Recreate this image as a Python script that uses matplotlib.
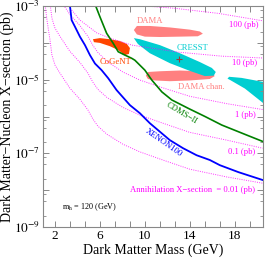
import numpy as np
import matplotlib
matplotlib.use("Agg")
import matplotlib.pyplot as plt
from matplotlib.ticker import FixedLocator, FuncFormatter, LogLocator, NullFormatter

plt.rcParams['font.family'] = 'serif'
plt.rcParams['font.serif'] = ['Liberation Serif', 'DejaVu Serif']
plt.rcParams['mathtext.fontset'] = 'stix'

# masses in GeV, cross sections as log10(pb)
xenon_m = [3.30, 3.48, 3.78, 4.22, 4.67, 5.11, 5.56, 6.15, 6.74, 7.48, 8.67, 9.56,
           10.44, 11.33, 12.22, 13.40, 14.6, 15.78, 16.67, 18.33, 20.55]
xenon_s = [-2.9, -3.38, -3.56, -3.83, -4.06, -4.33, -4.56, -4.74, -4.96, -5.28, -5.69, -5.91,
           -6.18, -6.41, -6.64, -6.86, -7.05, -7.18, -7.32, -7.51, -7.73]

cdms_m = [5.5, 6.0, 6.6, 7.18, 7.63, 8.22, 8.84, 9.11, 10.0, 10.62, 11.51, 12.4,
          13.88, 15.36, 16.84, 19.04, 20.52]
cdms_s = [-2.9, -3.29, -3.74, -4.01, -4.24, -4.33, -4.42, -4.47, -4.74, -5.01, -5.33, -5.55,
          -5.78, -6.0, -6.23, -6.50, -6.68]

# annihilation cross section contours
ann_labels = ["100 (pb)", "10 (pb)", "1 (pb)", "0.1 (pb)", "Annihilation X\u2212section  = 0.01 (pb)"]
ann100_m = [7.9, 8.84, 12.67, 16.58, 20.49]
ann100_s = [-2.9, -2.97, -3.06, -3.20, -3.40]
ann10_m = [3.2, 3.33, 4.22, 5.73, 6.89, 8.84, 12.93, 16.84, 20.49]
ann10_s = [-2.95, -3.05, -3.38, -3.73, -3.87, -4.06, -4.25, -4.36, -4.41]
ann1_m = [2.44, 3.33, 4.22, 4.93, 5.38, 5.82, 6.62, 8.04, 9.56, 11.6, 14.0, 17.29, 20.49]
ann1_s = [-2.82, -3.23, -3.53, -3.82, -4.07, -4.26, -4.50, -4.79, -5.01, -5.22, -5.45, -5.65, -5.81]
ann01_m = [1.56, 1.73, 2.0, 2.44, 3.33, 4.22, 4.93, 5.38, 5.82, 6.62, 8.04, 9.56, 11.6, 14.0, 17.29, 20.49]
ann01_s = [-2.92, -3.33, -3.60, -3.82, -4.23, -4.53, -4.82, -5.07, -5.26, -5.48, -5.75, -5.96,
           -6.18, -6.43, -6.64, -6.86]
ann001_m = [1.11, 1.29, 1.56, 1.73, 2.0, 2.44, 3.33, 4.22, 4.93, 5.38, 5.82, 6.62, 8.04, 9.56,
            11.6, 14.0, 17.29, 20.49]
ann001_s = [-2.92, -3.38, -3.92, -4.33, -4.60, -4.82, -5.23, -5.53, -5.82, -6.07, -6.26, -6.48,
            -6.75, -6.96, -7.18, -7.43, -7.64, -7.81]

# signal regions
cogent_m = [5.38, 6.0, 6.89, 7.78, 8.4, 8.67, 8.58, 8.22, 7.6, 6.89, 6.0, 5.47]
cogent_s = [-3.90, -3.87, -3.90, -3.95, -4.03, -4.14, -4.30, -4.33, -4.19, -4.09, -4.0, -3.98]
dama_m = [9.29, 10.44, 12.22, 14.0, 14.89, 15.16, 14.71, 13.11, 11.33, 10.0, 9.29, 9.02]
dama_s = [-3.54, -3.54, -3.58, -3.64, -3.69, -3.75, -3.82, -3.83, -3.84, -3.83, -3.77, -3.65]
damach_m = [10.09, 10.27, 11.33, 13.11, 14.89, 15.96, 16.22, 15.78, 14.0, 12.22, 10.89, 10.27]
damach_s = [-4.89, -4.79, -4.77, -4.75, -4.77, -4.82, -4.90, -4.98, -5.02, -5.04, -5.02, -4.98]
cresst1_m = [9.02, 9.56, 11.33, 13.11, 14.89, 15.96, 16.31, 16.13, 15.33, 14.0, 12.22, 10.44, 9.38]
cresst1_s = [-3.87, -3.90, -4.06, -4.28, -4.52, -4.68, -4.79, -4.89, -4.90, -4.76, -4.55, -4.28, -4.03]
cresst2_m = [17.35, 17.5, 18.6, 20.55, 21.5, 21.5, 20.55, 18.9, 17.6]
cresst2_s = [-4.97, -4.92, -4.95, -5.06, -5.12, -5.82, -5.64, -5.24, -5.01]
cresst_best = (13.0, -4.45)

xticks_shown = [2, 6, 10, 14, 18]

dama_col = '#ff8080'
cresst_col = '#00ced1'
cogent_col = '#ff4500'
mag = '#ff00ff'

fig = plt.figure(figsize=(2.65, 2.64), dpi=100)
ax = fig.add_axes([0.162, 0.14, 0.830, 0.837])
ax.set_yscale('log')

def p(s):
    return 10 ** np.array(s)

ax.fill(dama_m, p(dama_s), color=dama_col, lw=0)
ax.fill(damach_m, p(damach_s), color=dama_col, lw=0)
ax.fill(cresst1_m, p(cresst1_s), color=cresst_col, lw=0)
ax.fill(cresst2_m, p(cresst2_s), color=cresst_col, lw=0)
ax.fill(cogent_m, p(cogent_s), color=cogent_col, lw=0)
ax.plot([cresst_best[0]], [10 ** cresst_best[1]], marker='+', color='#9b3b3b', ms=5, mew=0.8)

for m, s in [(ann100_m, ann100_s), (ann10_m, ann10_s), (ann1_m, ann1_s),
             (ann01_m, ann01_s), (ann001_m, ann001_s)]:
    ax.plot(m, p(s), color=mag, lw=0.7, ls=(0, (1, 1.3)), alpha=0.8)

ax.plot(cdms_m, p(cdms_s), color='#008000', lw=1.2)
ax.plot(xenon_m, p(xenon_s), color='#0000ff', lw=1.3)

fs = 6.2
ax.text(6.0, 3.0e-5, "CoGeNT", color=cogent_col, fontsize=fs, va='center')
ax.text(9.29, 3.9e-4, "DAMA", color=dama_col, fontsize=fs, va='center')
ax.text(12.84, 7.3e-5, "CRESST", color=cresst_col, fontsize=fs, va='center')
ax.text(12.93, 6.3e-6, "DAMA chan.", color=dama_col, fontsize=fs, va='center')
ax.text(13.29, 1.24e-6, "CDMS\u2212II", color='#008000', fontsize=fs, rotation=-31,
        ha='center', va='center')
ax.text(11.69, 2.0e-7, "XENON100", color='#0000ff', fontsize=fs, rotation=-35,
        ha='center', va='center')
ann_pos = [(17.47, 3.0e-4), (17.73, 2.8e-5), (18.0, 1.1e-6), (17.38, 1.1e-7), (8.67, 1.0e-8)]
for lab, (x, y) in zip(ann_labels, ann_pos):
    ax.text(x, y, lab, color=mag, fontsize=fs, va='center')
ax.text(2.62, 3.5e-9, r"m$_{\rm h}$ = 120 (GeV)", color='black', fontsize=fs - 0.3, va='center')

ax.set_xlim(0.93, 20.5)
ax.set_ylim(1e-9, 1e-3)

ax.xaxis.set_major_locator(FixedLocator(np.arange(2 / 3, 20.5, 4 / 3)))
ax.xaxis.set_major_formatter(FuncFormatter(
    lambda v, pos: "%d" % round(v) if any(abs(v - t) < 0.01 for t in xticks_shown) else ""))
ax.yaxis.set_major_locator(FixedLocator([1e-9, 1e-8, 1e-7, 1e-6, 1e-5, 1e-4, 1e-3]))
ax.yaxis.set_major_formatter(FuncFormatter(
    lambda v, pos: r"$10^{%d}$" % round(np.log10(v)) if round(np.log10(v)) % 2 == 1 else ""))
ax.yaxis.set_minor_locator(LogLocator(base=10, subs=(2, 5, 8)))
ax.yaxis.set_minor_formatter(NullFormatter())

ax.tick_params(which='both', direction='in', top=True, right=True, color='#888888',
               labelsize=9.5, pad=2)
ax.tick_params(which='major', length=4, width=0.7)
ax.tick_params(which='minor', length=2.5, width=0.6)
for sp in ax.spines.values():
    sp.set_color('#888888')
    sp.set_linewidth(0.8)

ax.set_xlabel("Dark Matter Mass (GeV)", fontsize=10, labelpad=1)
ax.set_ylabel("Dark Matter\u2212Nucleon X\u2212section (pb)", fontsize=10, labelpad=0)

fig.savefig("out.png", dpi=100)
